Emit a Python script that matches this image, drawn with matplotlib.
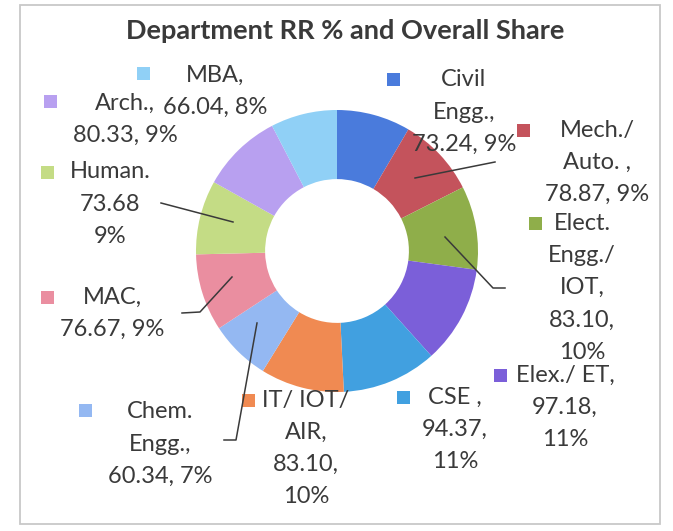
import matplotlib
matplotlib.use("Agg")
import matplotlib.pyplot as plt
from matplotlib.patches import Rectangle

# ---- data ----
categories = ["Civil Engg.", "Mech./Auto.", "Elect. Engg./IOT", "Elex./ET", "CSE",
              "IT/IOT/AIR", "Chem. Engg.", "MAC", "Human.", "Arch.", "MBA"]
rr_values = [73.24, 78.87, 83.10, 97.18, 94.37, 83.10, 60.34, 76.67, 73.68, 80.33, 66.04]
shares = [9, 9, 10, 11, 11, 10, 7, 9, 9, 9, 8]
label_names = ["Civil\nEngg.,", "Mech./\nAuto. ,", "Elect.\nEngg./\nIOT,", "Elex./ ET,", "CSE ,",
               "IT/ IOT/\nAIR,", "Chem.\nEngg.,", "MAC,", "Human.", "Arch.,", "MBA,"]
value_sep = [", ", ", ", ",\n", ",\n", ",\n", ",\n", ", ", ", ", "\n", ", ", ", "]
colors = ["#4a7bdc", "#c4535c", "#8fae4a", "#7b5fd9", "#41a0e0", "#f08a52",
          "#94b8f2", "#ea8ea0", "#c4dc85", "#b8a0f0", "#90d0f6"]

# ---- layout (pixel coordinates, y from top) ----
W, H = 673, 531
center_px = (337, 251)
outer_r = 141
ring_w = 0.49
label_pos = [(464, 80), (597, 130), (582, 223), (565, 375), (455, 397), (306, 400),
             (160, 412), (112, 297), (110, 172), (125, 103), (215, 75)]
marker_pos = [(393, 79), (523, 130), (535, 223), (500, 375), (403, 397), (248, 400),
              (85, 410), (47, 297), (47, 172), (50, 101), (143, 73)]
leaders = {1: [(415, 178), (495, 162)],
           2: [(445, 237), (493, 288), (505, 288)],
           8: [(233, 222), (161, 203)],
           7: [(232, 277), (200, 312), (182, 313)],
           6: [(257, 323), (236, 440), (224, 440)]}
line_pitch = 32.3
txt_color = "#3a3a3a"
font = "Lato"

fig = plt.figure(figsize=(W / 100, H / 100), dpi=100)
ax = fig.add_axes([0, 0, 1, 1])


def Y(y):
    return H - y


ax.pie(rr_values, colors=colors, startangle=90, counterclock=False,
       radius=outer_r, center=(center_px[0], Y(center_px[1])),
       wedgeprops=dict(width=outer_r * ring_w, edgecolor="none"))
ax.set_xlim(0, W)
ax.set_ylim(0, H)
ax.set_aspect("equal")
ax.axis("off")

# border
ax.add_patch(Rectangle((20, Y(524)), 640, 519, fill=False, edgecolor="#c8c8c8", lw=1.3))

# title
ax.text(345, Y(31), "Department RR % and Overall Share", ha="center", va="center",
        fontsize=19.5, fontweight="bold", color=txt_color, family=font)

# data labels
for i in range(len(categories)):
    text = f"{label_names[i]}\n{rr_values[i]:.2f}{value_sep[i]}{shares[i]}%"
    cx, cy = label_pos[i]
    for k, ln in enumerate(text.split("\n")):
        ax.text(cx, Y(cy + k * line_pitch), ln, ha="center", va="center",
                fontsize=17, color=txt_color, family=font)
    mx, my = marker_pos[i]
    ax.add_patch(Rectangle((mx - 6.5, Y(my) - 6.5), 13, 13,
                           facecolor=colors[i], edgecolor="none"))

for i, pts in leaders.items():
    ax.plot([p[0] for p in pts], [Y(p[1]) for p in pts], color=txt_color, lw=1.1)

fig.savefig("out.png", dpi=100)
